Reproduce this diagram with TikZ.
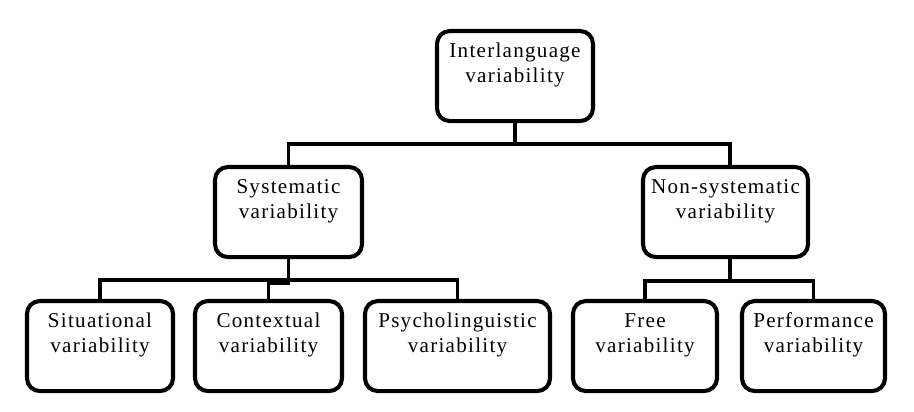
\documentclass[tikz,border=0pt]{standalone}
\usepackage{fontspec}
\setmainfont{Liberation Serif}[LetterSpace=6]
\usepackage{tikz}

\begin{document}
\begin{tikzpicture}[
  x=0.025cm, y=-0.025cm,
  box/.style={draw, line width=2.9pt, rounded corners=0.32cm, align=center,
              anchor=north, inner sep=0pt, minimum width=3.675cm,
              text height=1.275cm, text depth=0.975cm,
              font=\fontsize{15}{17.8}\selectfont},
  link/.style={line width=2.7pt},
]
\useasboundingbox (0,0) rectangle (914,412);

% === Top level ===
\node[box, minimum width=3.9cm] (root) at (515,29) {Interlanguage\\variability};

% === Second level ===
\node[box] (sys) at (288.5,165) {Systematic\\variability};
\node[box, minimum width=4.125cm] (nonsys) at (725.5,165) {Non-systematic\\variability};

% === Third level ===
\node[box, minimum width=3.65cm] (sit) at (100,299) {Situational\\variability};
\node[box] (ctx) at (268.5,299) {Contextual\\variability};
\node[box, minimum width=4.625cm] (psy) at (457.5,299) {Psycholinguistic\\variability};
\node[box, minimum width=3.6cm] (free) at (645,299) {Free\\variability};
\node[box, minimum width=3.575cm] (perf) at (813.5,299) {Performance\\variability};

% === Connectors ===
\coordinate (bus top) at (515,144);
\coordinate (bus left) at (288,280);
\coordinate (jog) at (268.5,283);
\coordinate (bus right) at (730,281);

\draw[link] (root.south) -- (bus top);
\draw[link] (sys.north) |- (bus top) -| ([xshift=0.11cm]nonsys.north);

\draw[link] (sit.north) |- (bus left) -| (psy.north);
\draw[link] (sys.south) |- (jog) -- (ctx.north);

\draw[link] ([xshift=0.11cm]nonsys.south) -- (bus right);
\draw[link] (free.north) |- (bus right) -| (perf.north);

\end{tikzpicture}
\end{document}
